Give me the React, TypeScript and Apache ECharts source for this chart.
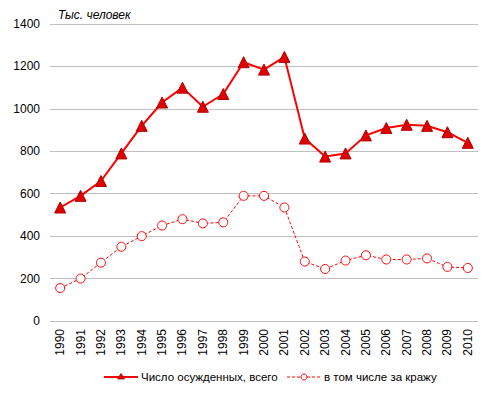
import React, { useEffect, useRef } from "react";
import * as echarts from "echarts";

const years = ["1990","1991","1992","1993","1994","1995","1996","1997","1998","1999","2000","2001","2002","2003","2004","2005","2006","2007","2008","2009","2010"];
const totalConvicted = [535, 590, 660, 790, 920, 1030, 1100, 1010, 1070, 1220, 1185, 1245, 860, 775, 790, 875, 910, 925, 920, 890, 840];
const theftConvicted = [155, 200, 275, 350, 400, 450, 480, 460, 465, 590, 590, 535, 280, 245, 285, 310, 290, 290, 295, 255, 250];
const seriesNames = ["Число осужденных, всего", "в том числе за кражу"];
const unitLabel = "Тыс. человек";

export default function App() {
  const ref = useRef<HTMLDivElement>(null);
  useEffect(() => {
    if (!ref.current) return;
    const chart = echarts.init(ref.current, null, { renderer: "svg" });
    const font = "Liberation Sans, Arial, sans-serif";
    const ly = 377;
    const lx1 = 104;
    const lx2 = 287;
    chart.setOption({
      animation: false,
      textStyle: { fontFamily: font },
      grid: { left: 50, right: 14, top: 24, bottom: 72, containLabel: false },
      graphic: [
        {
          type: "text",
          left: 58,
          top: 9,
          style: { text: unitLabel, font: "italic 12px " + font, fill: "#000" },
        },
        {
          type: "line",
          shape: { x1: lx1, y1: ly, x2: lx1 + 34, y2: ly },
          style: { stroke: "#ff0000", lineWidth: 2 },
        },
        {
          type: "polygon",
          shape: { points: [[lx1 + 17, ly - 3.5], [lx1 + 20.5, ly + 2], [lx1 + 13.5, ly + 2]] },
          style: { fill: "#e00000", stroke: "#b00000", lineWidth: 0.8 },
        },
        {
          type: "text",
          x: lx1 + 37,
          y: ly,
          style: { text: seriesNames[0], font: "11.5px " + font, fill: "#000", verticalAlign: "middle" },
        },
        {
          type: "line",
          shape: { x1: lx2, y1: ly, x2: lx2 + 34, y2: ly },
          style: { stroke: "#ff0000", lineWidth: 1, lineDash: [3, 2] },
        },
        {
          type: "circle",
          shape: { cx: lx2 + 17, cy: ly, r: 3 },
          style: { fill: "#ffffff", stroke: "#ff0000", lineWidth: 1 },
        },
        {
          type: "text",
          x: lx2 + 37,
          y: ly,
          style: { text: seriesNames[1], font: "11.5px " + font, fill: "#000", verticalAlign: "middle" },
        },
      ],
      xAxis: {
        type: "category",
        data: years,
        boundaryGap: true,
        axisLine: { show: false },
        axisTick: { show: false },
        axisLabel: { rotate: 90, fontSize: 12, color: "#000", margin: 8, fontFamily: font },
      },
      yAxis: {
        type: "value",
        min: 0,
        max: 1400,
        interval: 200,
        axisLine: { show: false },
        axisTick: { show: false },
        axisLabel: { fontSize: 12, color: "#000", margin: 10, fontFamily: font, formatter: (v: number) => String(v) },
        splitLine: { lineStyle: { color: "#bfbfbf", width: 1 } },
      },
      series: [
        {
          name: seriesNames[0],
          type: "line",
          data: totalConvicted,
          symbol: "triangle",
          symbolSize: 11,
          itemStyle: { color: "#e00000", borderColor: "#b00000", borderWidth: 1 },
          lineStyle: { color: "#ff0000", width: 2 },
        },
        {
          name: seriesNames[1],
          type: "line",
          data: theftConvicted,
          symbol: "circle",
          symbolSize: 9,
          itemStyle: { color: "#ffffff", borderColor: "#ff0000", borderWidth: 1 },
          lineStyle: { color: "#ff0000", width: 1, type: [3, 2] },
        },
      ],
    });
    return () => chart.dispose();
  }, []);
  return <div ref={ref} style={{ width: 492, height: 393, position: "absolute", left: 0, top: 0 }} />;
}
